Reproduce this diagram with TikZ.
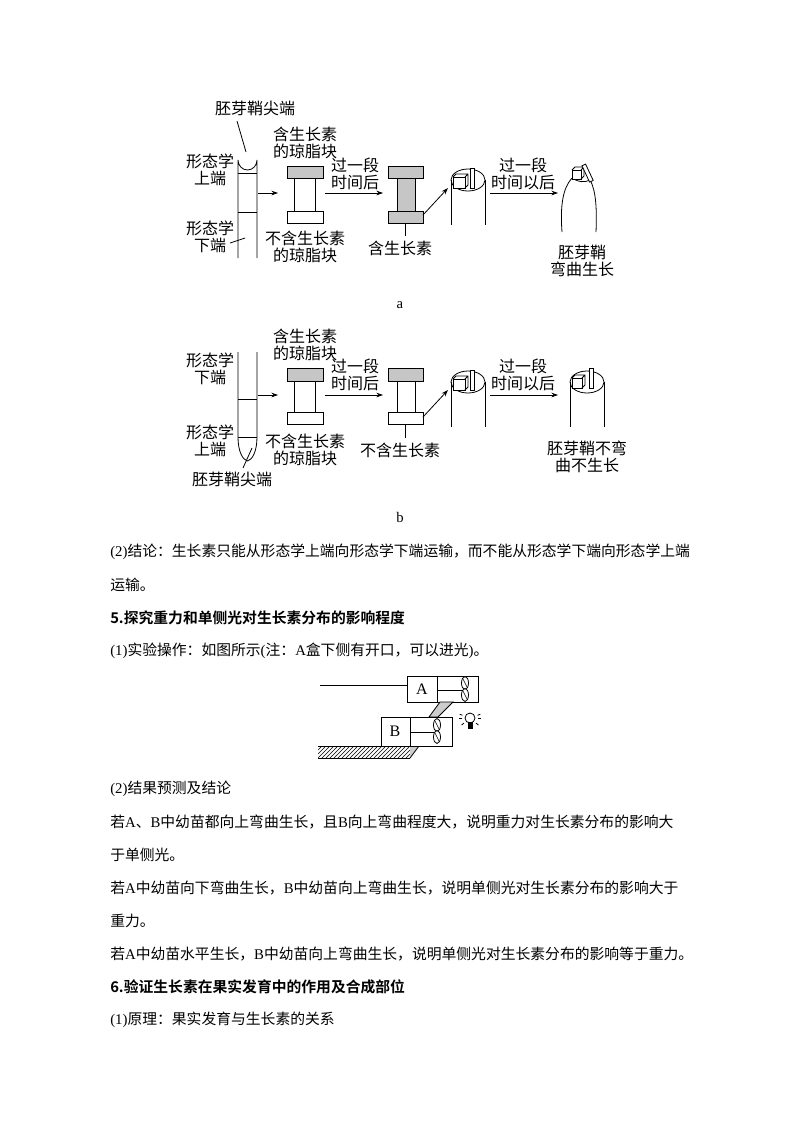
\documentclass[tikz,border=0pt]{standalone}
\usepackage{fontspec}
\setmainfont{Noto Sans CJK SC}[BoldFont={Noto Sans CJK SC Bold}]
\newfontfamily\lat{Liberation Serif}
\newcommand\zh{\normalfont}
\usetikzlibrary{arrows.meta,patterns,calc}
\tikzset{
 lbl/.style={font=\fontsize{12}{13}\selectfont, inner sep=0pt, align=center},
 body/.style={font=\fontsize{11.1}{12}\selectfont, inner sep=0pt, anchor=west},
 hd/.style={body, font=\fontsize{11.1}{12}\selectfont\bfseries},
 ar/.style={-{Stealth[length=5pt,width=3.5pt]}, line width=0.6pt},
 ln/.style={line width=0.6pt},
 gb/.style={ln, fill=gray!45},
 wb/.style={ln, fill=white},
}
\newcommand\myplant[2]{%
 \draw[ln] (#1,#2-12) -- (#1,#2+12);
 \draw[ln,fill=white] (#1,#2-6) ellipse [x radius=3.5, y radius=6.5];
 \draw[ln,fill=white] (#1,#2+6) ellipse [x radius=3.5, y radius=6.5];
 \draw[line width=0.4pt] (#1-2,#2-10) -- (#1+2,#2-2) (#1-2,#2+2) -- (#1+2,#2+10);}
\begin{document}
\begin{tikzpicture}[x=0.75pt,y=-0.75pt]
\useasboundingbox (0,0) rectangle (800,1132);
\fill[white] (0,0) rectangle (800,1132);
% ===== diagram a =====
\draw[ln] (238,258) -- (238,160) arc[start angle=180,end angle=0,x radius=9.5,y radius=10] -- (257,258);
\draw[ln] (238,173) -- (257,173) (238,212) -- (257,212);
\node[lbl] (a1) at (255,108) {胚芽鞘尖端};
\coordinate (a1e) at (246,152);
\draw[ln] (237,121) -- (a1e);
\node[lbl] (a2) at (210,170) {形态学\\上端};
\node[lbl] (a3) at (210,237) {形态学\\下端};
\coordinate (a3e) at (245,238);
\draw[ln] (230,243) -- (a3e);
\draw[ar] (258,193) -- (278,193);
\draw[gb] (287,166) rectangle (323,178);
\draw[wb] (294,178) rectangle (315,211);
\draw[wb] (287,211) rectangle (323,223);
\node[lbl] (a4) at (305,143) {含生长素\\的琼脂块};
\node[lbl] (a5) at (305,247) {不含生长素\\的琼脂块};
\draw[ar] (325,193) -- (383,193);
\node[lbl] (a6) at (355,174) {过一段\\时间后};
\draw[gb] (388,166) rectangle (423,178);
\draw[gb] (397,178) rectangle (415,211);
\draw[gb] (388,211) rectangle (423,223);
\draw[ln] (405.5,223) -- (405.5,236);
\node[lbl] (a7) at (400,248) {含生长素};
\draw[ar] (423,215) -- (448,188);
\draw[ln] (468,180) ellipse [x radius=17, y radius=11];
\draw[ln] (451,180) -- (451,225) (485,180) -- (485,225);
\draw[ln,fill=white] (453,177) rectangle (465,188);
\draw[ln] (453,177) -- (456,174) -- (468,174) -- (468,185) -- (465,188) (465,177) -- (468,174);
\draw[ln,fill=white] (470,168) rectangle (474,188);
\draw[ar] (490,193) -- (558,193);
\node[lbl] (a8) at (523,174) {过一段\\时间以后};
\draw[ln] (562,232) .. controls (560,205) and (563,188) .. (572,178);
\draw[ln] (596,232) .. controls (597,210) and (596,190) .. (590,180);
\draw[ln] (572,178) .. controls (578,182) and (584,183) .. (590,180);
\draw[ln,fill=white] (572,170) rectangle (581,179);
\draw[ln] (572,170) -- (575,167) -- (584,167) -- (584,176) -- (581,179) (581,170) -- (584,167);
\draw[ln,fill=white,rotate around={25:(588,174)}] (586,164) rectangle (590,182);
\node[lbl] (a9) at (582,261) {胚芽鞘\\弯曲生长};
\node[font=\lat\fontsize{11}{12}\selectfont] (la) at (400,305) {a};
% ===== diagram b =====
\draw[ln] (238,352) -- (238,437) .. controls (238,452) and (243,460) .. (247.5,461) .. controls (252,460) and (257,452) .. (257,437) -- (257,352);
\draw[ln] (238,399) -- (257,399) (238,437) -- (257,437);
\node[lbl] (b1) at (210,369) {形态学\\下端};
\node[lbl] (b2) at (210,441) {形态学\\上端};
\node[lbl] (b3) at (232,479) {胚芽鞘尖端};
\coordinate (b3e) at (252,448);
\draw[ln] (243,468) -- (b3e);
\draw[ar] (258,395) -- (278,395);
\draw[gb] (287,368) rectangle (323,381);
\draw[wb] (294,381) rectangle (315,412);
\draw[wb] (287,412) rectangle (323,424);
\node[lbl] (b4) at (305,345) {含生长素\\的琼脂块};
\node[lbl] (b5) at (305,450) {不含生长素\\的琼脂块};
\draw[ar] (325,395) -- (383,395);
\node[lbl] (b6) at (355,375) {过一段\\时间后};
\draw[gb] (388,368) rectangle (423,381);
\draw[wb] (397,381) rectangle (415,412);
\draw[wb] (388,412) rectangle (423,424);
\draw[ln] (405.5,424) -- (405.5,438);
\node[lbl] (b7) at (400,450) {不含生长素};
\draw[ar] (423,417) -- (448,390);
\draw[ln] (468,382) ellipse [x radius=17, y radius=11];
\draw[ln] (451,382) -- (451,427) (485,382) -- (485,427);
\draw[ln,fill=white] (453,379) rectangle (465,390);
\draw[ln] (453,379) -- (456,376) -- (468,376) -- (468,387) -- (465,390) (465,379) -- (468,376);
\draw[ln,fill=white] (470,370) rectangle (474,390);
\draw[ar] (490,395) -- (558,395);
\node[lbl] (b8) at (523,375) {过一段\\时间以后};
\draw[ln] (587,382) ellipse [x radius=17, y radius=11];
\draw[ln] (570,382) -- (570,427) (604,382) -- (604,427);
\draw[ln,fill=white] (572,378) rectangle (582,388);
\draw[ln] (572,378) -- (575,375) -- (585,375) -- (585,385) -- (582,388) (582,378) -- (585,375);
\draw[ln,fill=white] (589,368) rectangle (593,388);
\node[lbl] (b9) at (587,457) {胚芽鞘不弯\\曲不生长};
\node[font=\lat\fontsize{11}{12}\selectfont] (lb) at (400,517) {b};
% ===== text =====
\node[body] (t1) at (110,552) {{\lat(2)}结论：生长素只能从形态学上端向形态学下端运输，而不能从形态学下端向形态学上端};
\node[body] (t2) at (110,585) {运输。};
\node[hd] (t3) at (110,618) {5.探究重力和单侧光对生长素分布的影响程度};
\node[body] (t4) at (110,651) {{\lat(1)}实验操作：如图所示{\lat(}注：{\lat A}盒下侧有开口，可以进光{\lat)}。};
% ===== A/B boxes =====
\draw[ln] (320,685) -- (407,685);
\draw[ln] (407,676) rectangle (478,702);
\draw[ln] (437,676) -- (437,702);
\node[font=\lat\fontsize{12}{13}\selectfont] (A) at (422,689) {A};
\draw[ln] (437,690) -- (462,690);
\myplant{465}{689}
\draw[ln, fill=gray!40] (440,702) -- (453,702) -- (438,717) -- (429,717) -- cycle;
\draw[ln] (318,746) -- (381,746);
\fill[pattern=north east lines] (318,746) rectangle (410,758);
\draw[ln] (318,758) -- (410,758);
\fill[gray!40] (410,746) -- (419,746) -- (410,758) -- cycle;
\draw[ln] (410,758) -- (419,746);
\draw[ln,fill=white] (381,717) rectangle (452,746);
\draw[ln] (410,717) -- (410,746);
\node[font=\lat\fontsize{12}{13}\selectfont] (B) at (395,731) {B};
\draw[ln] (410,732) -- (434,732);
\myplant{437}{731}
% bulb
\draw[ln] (470,718) circle (5);
\fill (467.5,722) rectangle (472.5,729);
\foreach \a in {0,40,90,140,180,-20,200} \draw[ln] ($(470,718)+(\a:8)$) -- ($(470,718)+(\a:11)$);
\node[body] (t5) at (110,789) {{\lat(2)}结果预测及结论};
\node[body] (t6) at (110,822) {若{\lat A}、{\lat B}中幼苗都向上弯曲生长，且{\lat B}向上弯曲程度大，说明重力对生长素分布的影响大};
\node[body] (t7) at (110,855) {于单侧光。};
\node[body] (t8) at (110,888) {若{\lat A}中幼苗向下弯曲生长，{\lat B}中幼苗向上弯曲生长，说明单侧光对生长素分布的影响大于};
\node[body] (t9) at (110,921) {重力。};
\node[body] (t10) at (110,954) {若{\lat A}中幼苗水平生长，{\lat B}中幼苗向上弯曲生长，说明单侧光对生长素分布的影响等于重力。};
\node[hd] (t11) at (110,987) {6.验证生长素在果实发育中的作用及合成部位};
\node[body] (t12) at (110,1020) {{\lat(1)}原理：果实发育与生长素的关系};
\end{tikzpicture}
\end{document}
